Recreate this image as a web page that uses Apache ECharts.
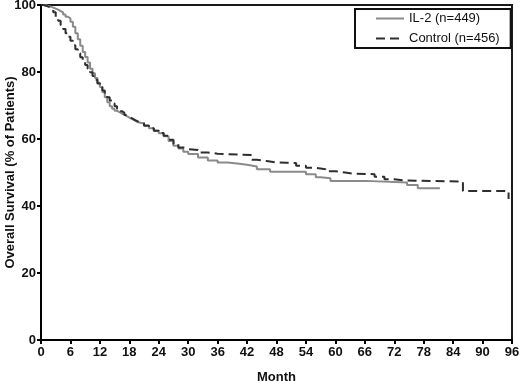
<!DOCTYPE html>
<html>
<head>
<meta charset="utf-8">
<script src="https://cdn.jsdelivr.net/npm/echarts@6/dist/echarts.min.js"></script>
<style>
html, body { margin: 0; padding: 0; background: #fff; }
#chart { width: 520px; height: 381px; }
</style>
</head>
<body>
<div id="chart"></div>
<script>
// survival; a point (m, s) = survival drops to s at month m
var il2Months = [0, 0.5, 1, 1.5, 2, 2.5, 3, 3.5, 4, 4.5, 5, 5.5, 6, 6.5, 7, 7.5, 8, 8.5, 9, 9.5,
	10, 10.5, 11, 11.5, 12, 12.5, 13, 13.5, 14, 14.5, 15, 15.5, 16, 16.5, 17, 17.5, 18, 18.5, 19, 19.5,
	20, 21, 22, 23, 24, 25, 26, 27, 28, 29, 30, 32, 34, 36, 38, 40, 42, 44, 46.7,
	54, 56, 57, 59, 66.2, 74.6, 76.8, 81.3];
var il2Survival = [100, 99.9, 99.7, 99.5, 99.2, 98.9, 98.6, 98.2, 97.8, 97.2, 96.5, 96, 95, 93.5, 91.6, 89.8, 87.8, 86, 84.5, 82.8,
	81, 79.6, 78.2, 76.8, 75.5, 74, 72.5, 71, 69.8, 69, 68.4, 68, 67.6, 67.2, 66.8, 66.4, 66, 65.6, 65.2, 64.9,
	64.6, 63.9, 63.2, 62.5, 61.7, 60.8, 59.4, 58, 57.2, 56.2, 55.5, 54.5, 53.6, 53, 52.7, 52.3, 51.8, 51, 50.2,
	49.5, 48.6, 48.3, 47.5, 47, 46.3, 45.3, 45.3];

var controlMonths = [0, 0.5, 1, 1.5, 2, 2.5, 3, 3.5, 4, 4.5, 5, 5.5, 6, 6.5, 7, 7.5, 8, 8.5, 9, 9.5,
	10, 10.5, 11, 11.5, 12, 12.5, 13, 13.5, 14, 14.5, 15, 15.5, 16, 16.5, 17, 17.5, 18, 18.5, 19, 19.5,
	20, 21, 22, 23, 24, 25, 26, 27, 28, 29, 30, 32, 34, 36,
	43, 44, 46, 48, 50, 52, 54, 56, 58, 60, 62, 64, 68, 70, 72, 74.2, 86, 95.3];
var controlSurvival = [100, 99.8, 99.5, 99.2, 98.7, 97.8, 96.5, 95.3, 94, 92.8, 91.6, 90.5, 89.3, 88, 86.8, 85.6, 84.4, 83.2, 82.1, 81,
	79.9, 78.8, 77.7, 76.6, 75.5, 74.5, 73.5, 72.5, 71.5, 70.6, 69.8, 69, 68.3, 67.8, 67.2, 66.7, 66.2, 65.8, 65.4, 65,
	64.7, 64, 63.2, 62.5, 61.8, 61, 59.8, 58.5, 57.5, 57, 56.7, 56, 55.6, 55.2,
	53.8, 53.4, 53, 52.9, 52.8, 52, 51.4, 51, 50.4, 50, 49.6, 49.5, 48.7, 48, 47.6, 47.3, 44.5, 42.1];

var il2Name = "IL-2 (n=449)";
var controlName = "Control (n=456)";

function pairs(xs, ys) {
	var out = [], i;
	for (i = 0; i < xs.length; i++)
		out.push([xs[i], ys[i]]);
	return out;
}

var font = "Liberation Sans, Arial, sans-serif";

var chart = echarts.init(document.getElementById("chart"), null, { renderer: "canvas" });

chart.setOption({
	animation: false,
	backgroundColor: "#fff",
	grid: {
		left: 41, right: 8, top: 5, bottom: 41,
		outerBoundsMode: "none",
		containLabel: false,
		show: true,
		borderColor: "#1a1a1a",
		borderWidth: 2
	},
	legend: {
		left: 355,
		top: 9,
		orient: "vertical",
		padding: [3, 11, 3, 20],
		itemWidth: 28,
		itemHeight: 14,
		itemGap: 7,
		borderColor: "#111",
		borderWidth: 2,
		itemStyle: { opacity: 0 },
		textStyle: { fontFamily: font, fontSize: 13, color: "#111" },
		data: [il2Name, controlName]
	},
	xAxis: {
		type: "value",
		min: 0, max: 96, interval: 6,
		name: "Month",
		nameLocation: "middle",
		nameGap: 31,
		nameMoveOverlap: false,
		nameTextStyle: { fontFamily: font, fontSize: 13, fontWeight: "bold", color: "#111" },
		splitLine: { show: false },
		axisLine: { lineStyle: { color: "#000", width: 2 } },
		axisTick: { length: 4, lineStyle: { color: "#000", width: 2 } },
		axisLabel: { fontFamily: font, fontSize: 13, fontWeight: "bold", color: "#111", margin: 6 }
	},
	yAxis: {
		type: "value",
		min: 0, max: 100, interval: 20,
		name: "Overall Survival (% of Patients)",
		nameLocation: "middle",
		nameGap: 24,
		nameMoveOverlap: false,
		nameTextStyle: { fontFamily: font, fontSize: 13, fontWeight: "bold", color: "#111" },
		splitLine: { show: false },
		axisLine: { lineStyle: { color: "#000", width: 2 } },
		axisTick: { length: 4, lineStyle: { color: "#000", width: 2 } },
		axisLabel: { fontFamily: font, fontSize: 13, fontWeight: "bold", color: "#111", margin: 5 }
	},
	series: [
		{
			name: il2Name,
			type: "line",
			step: "end",
			symbol: "none",
			data: pairs(il2Months, il2Survival),
			lineStyle: { color: "#8a8a8a", width: 2 },
			itemStyle: { color: "#8a8a8a" }
		},
		{
			name: controlName,
			type: "line",
			step: "end",
			symbol: "none",
			data: pairs(controlMonths, controlSurvival),
			lineStyle: { color: "#2e2e2e", width: 2, type: [9, 5] },
			itemStyle: { color: "#2e2e2e" }
		}
	]
});
</script>
</body>
</html>
